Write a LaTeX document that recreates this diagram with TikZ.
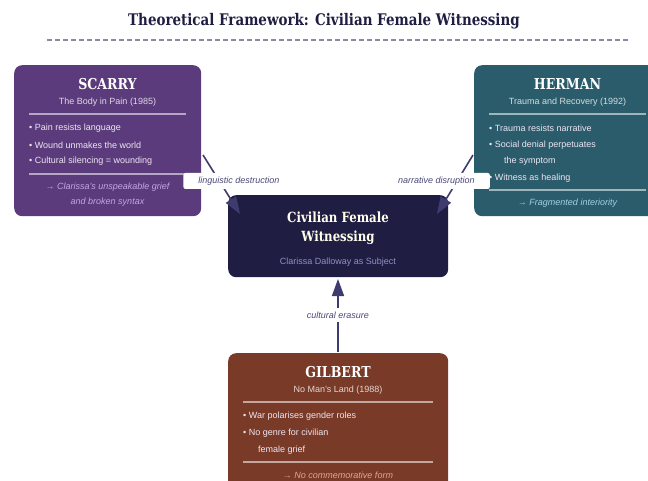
\documentclass[tikz,border=0pt]{standalone}
\usepackage{fontspec}
\setmainfont{DejaVu Serif}[BoldFont={DejaVu Serif Bold}]
\setsansfont{Liberation Sans}
\newfontfamily\headfont{DejaVu Serif Bold}[FakeStretch=0.84]
\usetikzlibrary{arrows.meta}
\definecolor{scarryc}{HTML}{5C3B7C}
\definecolor{hermanc}{HTML}{2B5C6B}
\definecolor{centerc}{HTML}{1F1D42}
\definecolor{gilbertc}{HTML}{7A3A28}
\definecolor{arrowc}{HTML}{3E3C6E}
\definecolor{titlec}{HTML}{1F1D42}
\definecolor{dashc}{HTML}{8A88A8}
\definecolor{bulc}{HTML}{EDE6F2}
\definecolor{snotec}{HTML}{C2A6E8}
\definecolor{hnotec}{HTML}{9CD2E4}
\definecolor{gnotec}{HTML}{E8A48C}
\definecolor{csubc}{HTML}{9290C4}
\definecolor{labc}{HTML}{4A4878}
\begin{document}
\begin{tikzpicture}[x=1pt,y=-1pt,
  box/.style={rounded corners=8pt, draw=none, anchor=north west, inner sep=0pt},
  ttl/.style={font=\headfont\fontsize{15}{16}\selectfont, text=white, inner sep=0pt},
  sub/.style={font=\sffamily\fontsize{9}{11}\selectfont, inner sep=0pt},
  bul/.style={font=\sffamily\fontsize{9}{11}\selectfont, anchor=west, inner sep=0pt, text=bulc},
  note/.style={font=\sffamily\itshape\fontsize{9}{11}\selectfont, inner sep=0pt},
  rule/.style={draw=white, draw opacity=0.55, line width=1.2pt},
  conn/.style={draw=arrowc, line width=1.6pt, -{Triangle[length=17pt,width=12pt]}},
  lab/.style={font=\sffamily\itshape\fontsize{9}{11}\selectfont, text=labc},
  labbox/.style={lab, fill=white, rounded corners=2pt, inner xsep=15pt, inner ysep=0pt, minimum height=16pt}
]
\useasboundingbox (0,0) rectangle (648,481);
% title
\node[font=\headfont\fontsize{16}{18}\selectfont, text=titlec, inner sep=0pt] (title) at (324,21) {Theoretical Framework: Civilian Female Witnessing};
\draw[dashc, line width=1.2pt, dash pattern=on 5pt off 3pt] (47,40) coordinate (d1) -- (628,40) coordinate (d2);

% SCARRY
\node[box, fill=scarryc, minimum width=187pt, minimum height=151pt] (scarry) at (14,65) {};
\node[ttl] (scarryt) at (107.5,84) {SCARRY};
\node[sub, text=white!80!scarryc] (scarrys) at (107.5,102) {The Body in Pain (1985)};
\draw[rule] (29,114) -- (186,114);
\node[bul] (sb1) at (29,128) {• Pain resists language};
\node[bul] (sb2) at (29,145) {• Wound unmakes the world};
\node[bul] (sb3) at (29,161) {• Cultural silencing = wounding};
\draw[rule] (29,174) -- (186,174);
\node[note, text=snotec] (sn1) at (107.5,187) {→ Clarissa's unspeakable grief};
\node[note, text=snotec] (sn2) at (107.5,202) {and broken syntax};

% HERMAN
\node[box, fill=hermanc, minimum width=187pt, minimum height=151pt] (herman) at (474,65) {};
\node[ttl] (hermant) at (567.5,84) {HERMAN};
\node[sub, text=white!80!hermanc] (hermans) at (567.5,102) {Trauma and Recovery (1992)};
\draw[rule] (489,114) -- (646,114);
\node[bul] (hb1) at (489,128) {• Trauma resists narrative};
\node[bul] (hb2) at (489,145) {• Social denial perpetuates};
\node[bul] (hb3) at (504,161) {the symptom};
\node[bul] (hb4) at (489,178) {• Witness as healing};
\draw[rule] (489,190) -- (646,190);
\node[note, text=hnotec] (hn1) at (567.5,203) {→ Fragmented interiority};

% CENTER
\node[box, fill=centerc, minimum width=220pt, minimum height=82pt] (center) at (228,195) {};
\node[font=\headfont\fontsize{14}{19}\selectfont, text=white!92!yellow, align=center, inner sep=0pt] (centert) at (338,228.5) {Civilian Female\\Witnessing};
\node[sub, text=csubc] (centers) at (338,262) {Clarissa Dalloway as Subject};

% GILBERT
\node[box, fill=gilbertc, minimum width=220pt, minimum height=160pt] (gilbert) at (228,353) {};
\node[ttl] (gilbertt) at (338,372) {GILBERT};
\node[sub, text=white!80!gilbertc] (gilberts) at (338,390) {No Man's Land (1988)};
\draw[rule] (243,402) -- (433,402);
\node[bul] (gb1) at (243,416) {• War polarises gender roles};
\node[bul] (gb2) at (243,433) {• No genre for civilian};
\node[bul] (gb3) at (258,450) {female grief};
\draw[rule] (243,462) -- (433,462);
\node[note, text=gnotec] (gn1) at (338,475) {→ No commemorative form};

% connectors
\coordinate (sa) at (203,155);
\coordinate (sb) at (240,214);
\coordinate (ha) at (473,155);
\coordinate (hb) at (437,214);
\coordinate (ga) at (338,352);
\coordinate (gb) at (338,279);
\draw[conn] (sa) -- (sb);
\draw[conn] (ha) -- (hb);
\draw[conn] (ga) -- (gb);
\node[labbox] (l1) at (239,181) {linguistic destruction};
\node[labbox] (l2) at (436.5,181) {narrative disruption};
\node[lab, fill=white, inner xsep=4pt, inner ysep=4pt] (l3) at (338,315) {cultural erasure};
\end{tikzpicture}
\end{document}
